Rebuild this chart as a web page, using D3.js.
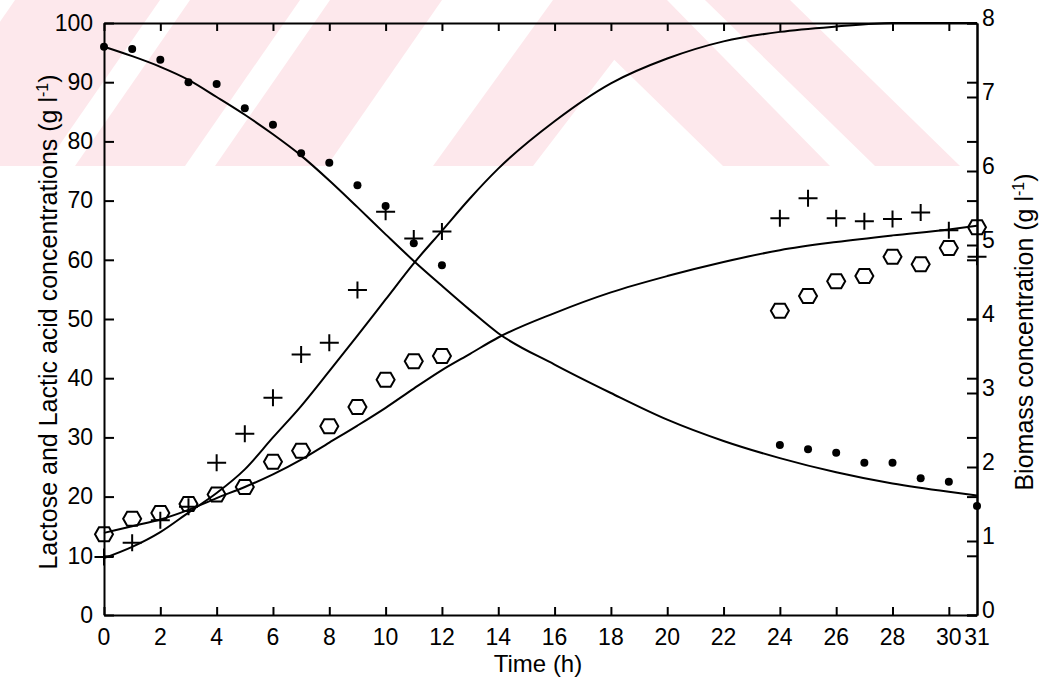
<!DOCTYPE html>
<html>
<head>
<meta charset="utf-8">
<script src="https://cdn.jsdelivr.net/npm/d3@7"></script>
<style>
  body { margin: 0; background: #fff; }
  svg { display: block; font-family: "Liberation Sans", Arial, sans-serif; }
  .axis path, .axis line { stroke: #000; stroke-width: 2; }
  .axis text { font-size: 23px; fill: #000; }
</style>
</head>
<body>
<svg id="chart" width="1047" height="680"></svg>
<script>
// observed data
const timeObs = [0, 1, 2, 3, 4, 5, 6, 7, 8, 9, 10, 11, 12, 24, 25, 26, 27, 28, 29, 30, 31];
const lactoseObs = [96, 95.6, 93.8, 90, 89.7, 85.6, 82.8, 78, 76.4, 72.6, 69.1, 62.8, 59.1, 28.7, 28, 27.4, 25.7, 25.7, 23.1, 22.5, 18.4];
const lacticObs = [9.8, 12.2, 16, 18.3, 25.7, 30.6, 36.7, 44, 46, 54.9, 68.1, 63.6, 64.8, 67, 70.4, 67, 66.5, 66.9, 68, 65, 60.5];
const biomassObs = [1.09, 1.3, 1.38, 1.5, 1.63, 1.73, 2.07, 2.22, 2.55, 2.81, 3.18, 3.43, 3.5, 4.11, 4.31, 4.51, 4.58, 4.84, 4.74, 4.96, 5.24];

// model curves
const timeModel = [0, 1, 2, 3, 4, 5, 6, 7, 8, 9, 10, 11, 12, 13, 14, 16, 18, 20, 22, 24, 26, 28, 30, 31];
const lactoseModel = [96, 94.4, 92.6, 90.4, 87.5, 84.5, 81.2, 77.6, 73.4, 68.9, 64.3, 59.8, 55.6, 51.5, 47.6, 42.3, 37.5, 33, 29.4, 26.5, 24.1, 22.2, 20.8, 20.2];
const lacticModel = [9.6, 11.5, 14, 17.3, 20.6, 24.6, 30, 35.3, 41.2, 47.2, 53.3, 59.4, 64.9, 70.4, 75.4, 83.4, 89.8, 94, 96.9, 98.5, 99.4, 100, 100, 100];
const biomassModel = [1.11, 1.2, 1.29, 1.42, 1.58, 1.73, 1.9, 2.1, 2.33, 2.56, 2.8, 3.06, 3.31, 3.53, 3.75, 4.08, 4.36, 4.58, 4.77, 4.93, 5.04, 5.13, 5.21, 5.26];

// ticks
const xTicks = [0, 2, 4, 6, 8, 10, 12, 14, 16, 18, 20, 22, 24, 26, 28, 30, 31];
const leftTicks = [0, 10, 20, 30, 40, 50, 60, 70, 80, 90, 100];
const rightTicks = [0, 1, 2, 3, 4, 5, 6, 7, 8];

const svg = d3.select('#chart');
const x = d3.scaleLinear().domain([0, 31]).range([104, 977]);
const yL = d3.scaleLinear().domain([0, 100]).range([615, 23]);
const yR = d3.scaleLinear().domain([0, 8]).range([615, 23]);

// faint watermark bands in the top strip
const wm = svg.append('g');
const bandH = 166;
[
  [[-100, 45], [15, 160]],
  [[75, 185], [190, 300]],
  [[215, 327], [330, 442]],
  [[433, 533], [553, 660]],
  [[723, 830], [553, 667]],
  [[875, 960], [705, 790]]
].forEach(([bot, top]) => {
  wm.append('path')
    .attr('d', `M${bot[0]},${bandH}L${bot[1]},${bandH}L${top[1]},0L${top[0]},0Z`)
    .attr('fill', '#fde8ec');
});

// axes
const ax = (gen, tr) => svg.append('g').attr('class', 'axis').attr('transform', tr).call(gen);

ax(d3.axisLeft(yL).tickValues(leftTicks).tickSize(-10).tickSizeOuter(0).tickPadding(11), 'translate(104,0)');
ax(d3.axisBottom(x).tickValues(xTicks.filter(d => d !== 31)).tickSize(-8).tickSizeOuter(0).tickFormat(''), 'translate(0,615)');
ax(d3.axisTop(x).tickValues(xTicks.filter(d => d !== 31)).tickSize(-8).tickSizeOuter(0).tickFormat(''), 'translate(0,23)');
ax(d3.axisRight(yL).tickValues(leftTicks).tickSize(-10).tickSizeOuter(0).tickFormat(''), 'translate(977,0)');
const rAx = ax(d3.axisRight(yR).tickValues(rightTicks).tickSize(-10).tickSizeOuter(0).tickPadding(5), 'translate(977,0)');
rAx.selectAll('text').attr('dy', '0.12em');

// bottom labels drawn separately so 30 and 31 sit close together like the original
svg.append('g').selectAll('text').data(xTicks).join('text')
  .attr('x', d => x(d))
  .attr('y', 645)
  .attr('text-anchor', 'middle')
  .attr('font-size', 23)
  .text(d => d);

// model lines
const lineL = d3.line().x((d, i) => x(timeModel[i])).y(d => yL(d)).curve(d3.curveMonotoneX);
const lineR = d3.line().x((d, i) => x(timeModel[i])).y(d => yR(d)).curve(d3.curveMonotoneX);
[lineL(lactoseModel), lineL(lacticModel), lineR(biomassModel)].forEach(p => {
  svg.append('path').attr('d', p).attr('fill', 'none').attr('stroke', '#000').attr('stroke-width', 2);
});

// markers
svg.append('g').selectAll('circle').data(lactoseObs).join('circle')
  .attr('cx', (d, i) => x(timeObs[i]))
  .attr('cy', d => yL(d))
  .attr('r', 4)
  .attr('fill', '#000');

svg.append('g').selectAll('path').data(lacticObs).join('path')
  .attr('transform', (d, i) => `translate(${x(timeObs[i])},${yL(d)})`)
  .attr('d', 'M-9.5,0H9.5M0,-8.5V8.5')
  .attr('stroke', '#000')
  .attr('stroke-width', 2);

svg.append('g').selectAll('path').data(biomassObs).join('path')
  .attr('transform', (d, i) => `translate(${x(timeObs[i])},${yR(d)})`)
  .attr('d', 'M-9,0L-5,-7H5L9,0L5,7H-5Z')
  .attr('fill', 'none')
  .attr('stroke', '#000')
  .attr('stroke-width', 2);

// axis titles
const title = (tx, ty, rot, main) => {
  const t = svg.append('text')
    .attr('transform', `translate(${tx},${ty}) rotate(${rot})`)
    .attr('text-anchor', 'middle')
    .attr('font-size', 25);
  t.append('tspan').text(main);
  t.append('tspan').attr('font-size', 16).attr('dy', -9).text('-1');
  t.append('tspan').attr('dy', 9).text(')');
  return t;
};
title(57, 322, -90, 'Lactose and Lactic acid concentrations (g l');
title(1033, 332, -90, 'Biomass concentration (g l');

svg.append('text')
  .attr('x', 538)
  .attr('y', 672)
  .attr('text-anchor', 'middle')
  .attr('font-size', 24)
  .text('Time (h)');
</script>
</body>
</html>
